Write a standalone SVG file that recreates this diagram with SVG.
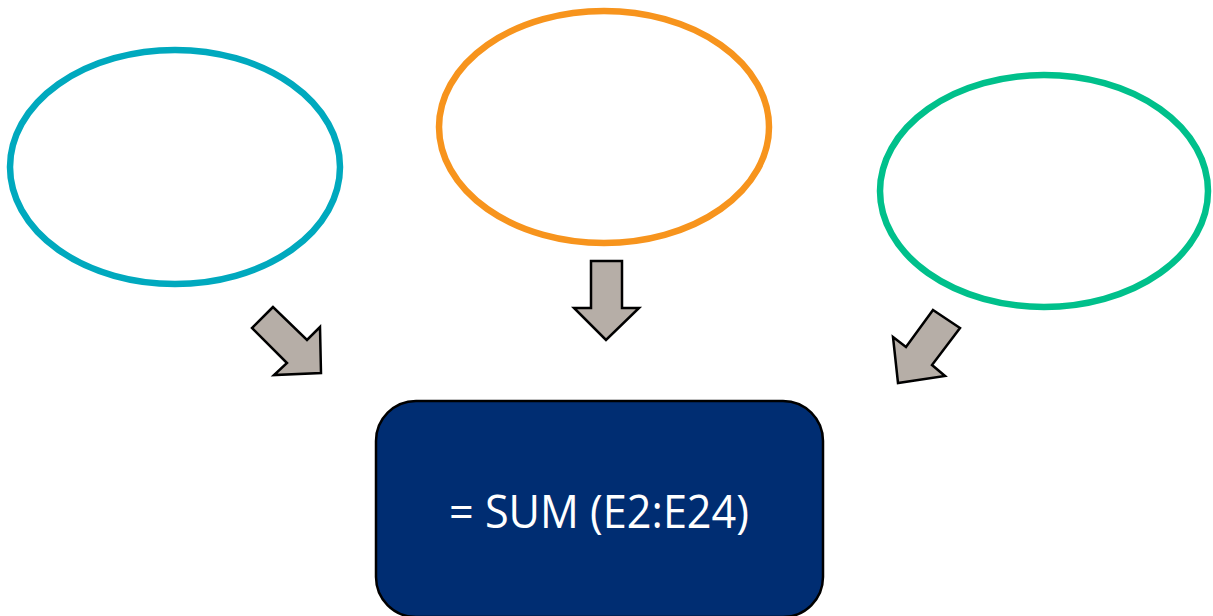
<svg xmlns="http://www.w3.org/2000/svg" width="1213" height="616" viewBox="0 0 1213 616">
<style>
.oval{fill:#fff;stroke-width:6.5}
.arr{fill:#b6aea7;stroke:#000;stroke-width:2.5;stroke-linejoin:miter}
.lbl{font-family:"Open Sans","Liberation Sans",sans-serif;font-size:45px;fill:#fff}
</style>
<rect width="1213" height="616" fill="#fff"/>
<g id="oval-left"><ellipse class="oval" cx="175" cy="167" rx="165" ry="117" stroke="#00a9be"/></g>
<g id="oval-middle"><ellipse class="oval" cx="604" cy="127" rx="165" ry="116" stroke="#f7941d"/></g>
<g id="oval-right"><ellipse class="oval" cx="1044" cy="191" rx="164" ry="116" stroke="#00c08b"/></g>
<g id="sum-box">
<rect x="376" y="401" width="447" height="216" rx="40" ry="40" fill="#002d72" stroke="#000" stroke-width="2.5"/>
<text class="lbl" x="599" y="528" text-anchor="middle" textLength="300" lengthAdjust="spacingAndGlyphs">= SUM (E2:E24)</text>
</g>
<g id="connectors">
<polygon class="arr" points="273,307 252,328 287,363 274,375 321,373 320,327 307,340"/>
<polygon class="arr" points="591,261 622,261 622,308 639,308 606,340 574,308 591,308"/>
<polygon class="arr" points="933,310 960,328 932,365 945,376 898,383 893,337 906,347"/>
</g>
</svg>
